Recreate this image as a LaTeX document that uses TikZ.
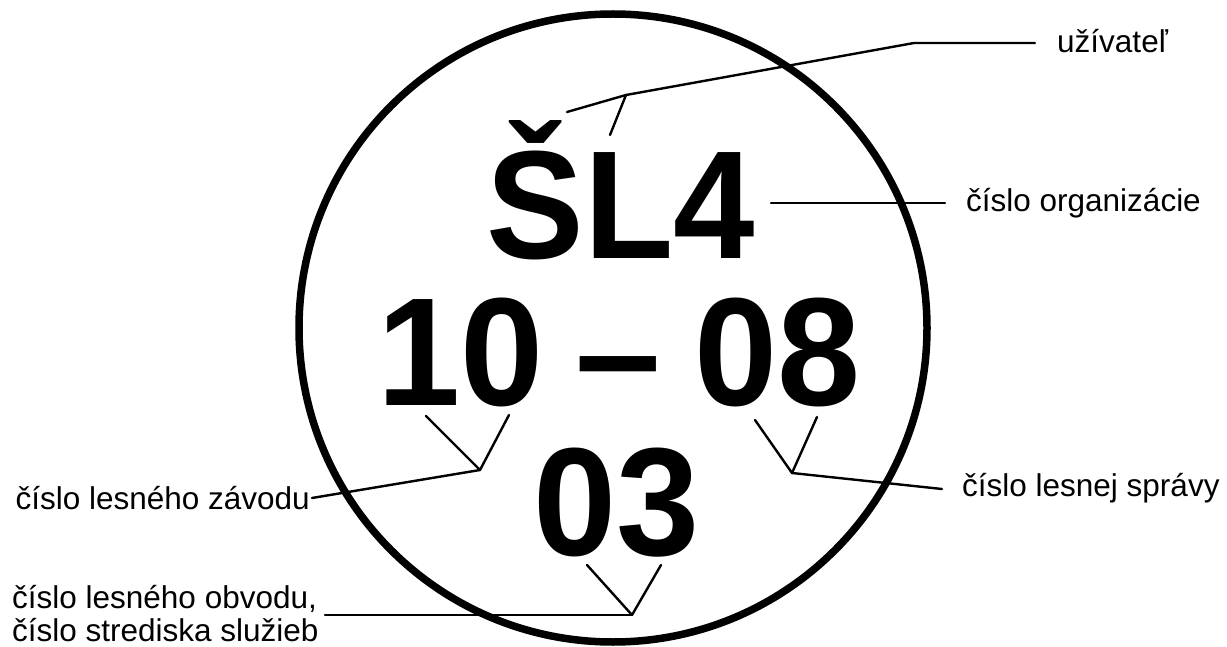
\documentclass[tikz,border=0pt]{standalone}
\usepackage{fontspec}
\setmainfont{Liberation Sans}
\begin{document}
\begin{tikzpicture}[x=1pt,y=-1pt,
  big/.style={inner sep=0pt,anchor=base,font=\fontsize{154}{160}\selectfont\bfseries},
  lbl/.style={inner sep=0pt,font=\fontsize{31.5}{33}\selectfont},
  thin/.style={line width=2.4pt,line cap=round,line join=round}]
\useasboundingbox (0,0) rectangle (1227,647);
\draw[line width=7.5pt] (613,328) circle[radius=314];
% big text
\node[big,xscale=0.95] (sl4) at (621,259) {ŠL4};
\node[big,xscale=0.97] (ten) at (461,405) {10};
\node[big] (dash) at (618,405) {–};
\node[big,xscale=0.97] (eight) at (778,405) {08};
\node[big,xscale=0.97] (three) at (617,555) {03};
% labels
\node[lbl,anchor=base west] (user) at (1057,53) {užívateľ};
\node[lbl,anchor=base west] (org) at (966,212) {číslo organizácie};
\node[lbl,anchor=base west] (ls) at (962,496) {číslo lesnej správy};
\node[lbl,anchor=base east] (lz) at (310,509) {číslo lesného závodu};
\node[lbl,anchor=base west] (lo1) at (12,608) {číslo lesného obvodu,};
\node[lbl,anchor=base west] (lo2) at (12,641) {číslo strediska služieb};
% connector points
\coordinate (uA) at (567,112);
\coordinate (uB) at (626,95);
\coordinate (uC) at (914,43);
\coordinate (uD) at (1035,43);
\coordinate (uE) at (610,135);
\coordinate (oA) at (771,203);
\coordinate (oB) at (945,203);
\coordinate (tL) at (426,416);
\coordinate (tV) at (480,470);
\coordinate (tR) at (509,415);
\coordinate (tE) at (312,498);
\coordinate (eL) at (755,420);
\coordinate (eV) at (792,473);
\coordinate (eR) at (817,417);
\coordinate (eE) at (942,489);
\coordinate (hL) at (587,565);
\coordinate (hV) at (632,615);
\coordinate (hR) at (661,565);
\coordinate (hE) at (325,615);
% connectors
\draw[thin] (uA) -- (uB) -- (uC) -- (uD);
\draw[thin] (uB) -- (uE);
\draw[thin] (oA) -- (oB);
\draw[thin] (tL) -- (tV) -- (tR);
\draw[thin] (tV) -- (tE);
\draw[thin] (eL) -- (eV) -- (eR);
\draw[thin] (eV) -- (eE);
\draw[thin] (hL) -- (hV) -- (hR);
\draw[thin] (hV) -- (hE);
\end{tikzpicture}
\end{document}
